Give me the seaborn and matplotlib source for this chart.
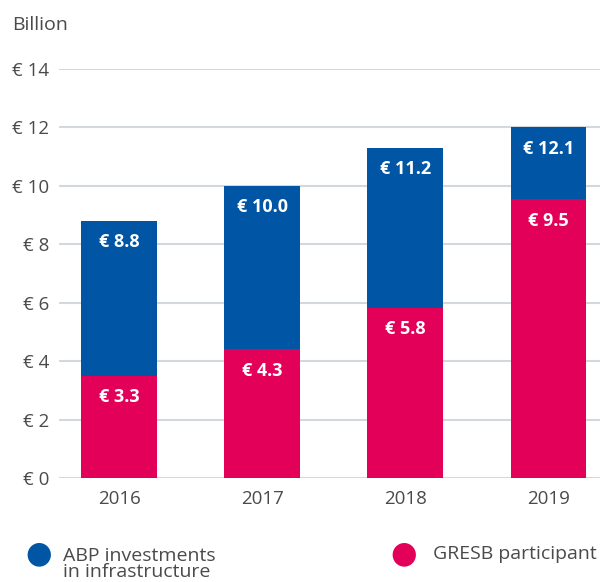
import pandas as pd
import matplotlib
matplotlib.use("Agg")
import matplotlib.pyplot as plt
import seaborn as sns

# values (billion euro)
years = ["2016", "2017", "2018", "2019"]
abp_total = [8.8, 10.0, 11.3, 12.0]
gresb = [3.5, 4.4, 5.83, 9.55]
abp_labels = ["€ 8.8", "€ 10.0", "€ 11.2", "€ 12.1"]
gresb_labels = ["€ 3.3", "€ 4.3", "€ 5.8", "€ 9.5"]
y_ticks = [0, 2, 4, 6, 8, 10, 12, 14]

BLUE = "#0055a4"
PINK = "#e30059"
TEXT = "#4a4a4a"
GRID = "#d3d8dd"

sns.set_theme(style="white")
plt.rcParams["font.family"] = ["Open Sans", "DejaVu Sans"]

df = pd.DataFrame({"year": years, "abp": abp_total, "gresb": gresb})

fig = plt.figure(figsize=(6.0, 5.82), dpi=100)
ax = fig.add_axes([0.0983, 0.1787, 0.9017, 0.7027])

# blue bars show the full amount, pink overlaid from zero
sns.barplot(data=df, x="year", y="abp", color=BLUE, width=0.53,
            saturation=1, linewidth=0, ax=ax, zorder=3)
sns.barplot(data=df, x="year", y="gresb", color=PINK, width=0.53,
            saturation=1, linewidth=0, ax=ax, zorder=4)

for i in range(len(years)):
    ax.annotate(abp_labels[i], (i, abp_total[i]), xytext=(0, -15.5),
                textcoords="offset points", ha="center", va="center",
                color="white", fontsize=13, fontweight="bold", zorder=5)
    ax.annotate(gresb_labels[i], (i, gresb[i]), xytext=(0, -15.5),
                textcoords="offset points", ha="center", va="center",
                color="white", fontsize=13, fontweight="bold", zorder=5)

ax.set_xlim(-0.42, 3.36)
ax.set_ylim(0, 14)
ax.set_yticks(y_ticks)
ax.set_yticklabels([f"€ {t}" for t in y_ticks])
ax.yaxis.grid(True, color=GRID, linewidth=1.5, zorder=0)
ax.set_axisbelow(True)
for s in ax.spines.values():
    s.set_visible(False)
ax.tick_params(axis="both", length=0, labelsize=13.5, colors=TEXT)
ax.tick_params(axis="y", pad=7)
ax.tick_params(axis="x", pad=9)
ax.set_xlabel("")
ax.set_ylabel("")

fig.text(0.02, 0.957, "Billion", fontsize=14, color=TEXT, va="center", ha="left")

# legend drawn by hand to keep the two-column layout
fig.text(0.065, 0.048, "●", fontsize=22, color=BLUE, ha="center", va="center")
fig.text(0.105, 0.031, "ABP investments\nin infrastructure", fontsize=14,
         color=TEXT, ha="left", va="center", linespacing=0.9)
fig.text(0.673, 0.048, "●", fontsize=22, color=PINK, ha="center", va="center")
fig.text(0.722, 0.048, "GRESB participant", fontsize=14, color=TEXT,
         ha="left", va="center")

fig.savefig("out.png", dpi=100)
